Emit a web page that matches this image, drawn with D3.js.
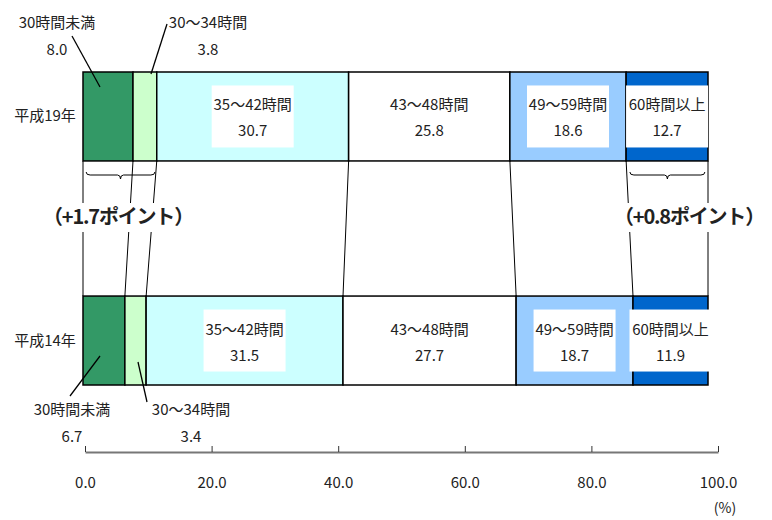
<!DOCTYPE html>
<html>
<head>
<meta charset="utf-8">
<script src="https://cdnjs.cloudflare.com/ajax/libs/d3/7.8.5/d3.min.js"></script>
<style>
body { margin: 0; background: #fff; }
text { font-family: "Noto Sans CJK JP", "Noto Sans", sans-serif; fill: #222; }
</style>
</head>
<body>
<svg width="772" height="520"></svg>
<script>
// data
var categories = ["30時間未満", "30～34時間", "35～42時間", "43～48時間", "49～59時間", "60時間以上"];
var years = ["平成19年", "平成14年"];
var h19 = [8.0, 3.8, 30.7, 25.8, 18.6, 12.7];
var h14 = [6.7, 3.4, 31.5, 27.7, 18.7, 11.9];
var tickValues = [0, 20, 40, 60, 80, 100];
var diffLabels = ["（+1.7ポイント）", "（+0.8ポイント）"];
var colors = ["#339966", "#ccffcc", "#ccffff", "#ffffff", "#99ccff", "#0066cc"];

var series = [h19, h14];

var svg = d3.select("svg");

var x = d3.scaleLinear().domain([0, 100]).range([83, 708]);
var xAxisScale = d3.scaleLinear().domain([0, 100]).range([85, 718]);
var y = d3.scaleBand().domain(years).range([72, 385]).paddingInner(0.603);

// cumulative start/end per segment
var stacks = series.map(function(vals) {
    var c = 0;
    return vals.map(function(v, i) {
        var s = c;
        c += v;
        return {i: i, v: v, s: s, e: (i == vals.length - 1) ? 100 : c};
    });
});

// connector lines between the two bars
var b1 = y(years[0]) + y.bandwidth();
var t2 = y(years[1]);
var conn = svg.append("g");
for (var k = 0; k <= categories.length; k++) {
    var xa = k == 0 ? 0 : stacks[0][k - 1].e;
    var xb = k == 0 ? 0 : stacks[1][k - 1].e;
    conn.append("line")
        .attr("x1", x(xa)).attr("y1", b1)
        .attr("x2", x(xb)).attr("y2", t2)
        .attr("stroke", "#000").attr("stroke-width", 1);
}

// bars
years.forEach(function(yr, j) {
    var g = svg.append("g");
    g.selectAll("rect")
        .data(stacks[j])
        .enter()
        .append("rect")
        .attr("x", function(d) { return x(d.s); })
        .attr("width", function(d) { return x(d.e) - x(d.s); })
        .attr("y", y(yr))
        .attr("height", y.bandwidth())
        .attr("fill", function(d) { return colors[d.i]; })
        .attr("stroke", "#000")
        .attr("stroke-width", 1.5);

    var cy = y(yr) + y.bandwidth() / 2;
    // white boxes + labels for the wide segments
    stacks[j].filter(function(d) { return d.i >= 2; }).forEach(function(d) {
        var cx = (x(d.s) + x(d.e)) / 2;
        if (d.i != 3) {
            g.append("rect")
                .attr("x", cx - 41).attr("y", cy - 31)
                .attr("width", 82).attr("height", 62)
                .attr("fill", "#fff");
        }
        g.append("text").attr("x", cx).attr("y", cy - 6)
            .attr("text-anchor", "middle").attr("font-size", 15)
            .text(categories[d.i]);
        g.append("text").attr("x", cx).attr("y", cy + 20)
            .attr("text-anchor", "middle").attr("font-size", 15)
            .text(d.v.toFixed(1));
    });

    // row label
    svg.append("text").attr("x", 45).attr("y", cy + 5)
        .attr("text-anchor", "middle").attr("font-size", 15)
        .text(yr);
});

// labels for the two small segments, outside the bars
var outside = [
    // [year index, segment, label x, label y, leader from, leader to]
    [0, 0, 57, 28, [72, 36], [100, 87]],
    [0, 1, 208, 28, [167, 24], [151, 74]],
    [1, 0, 72, 415, [70, 396], [100, 356]],
    [1, 1, 191, 415, [147, 402], [138, 362]]
];
outside.forEach(function(o) {
    var d = stacks[o[0]][o[1]];
    svg.append("line")
        .attr("x1", o[4][0]).attr("y1", o[4][1])
        .attr("x2", o[5][0]).attr("y2", o[5][1])
        .attr("stroke", "#000").attr("stroke-width", 1.3);
    svg.append("text").attr("x", o[2]).attr("y", o[3])
        .attr("text-anchor", "middle").attr("font-size", 15)
        .text(categories[d.i]);
    svg.append("text").attr("x", o[2]).attr("y", o[3] + 27)
        .attr("text-anchor", "middle").attr("font-size", 15)
        .text(d.v.toFixed(1));
});

// curly braces under the top bar
function brace(x0, x1, yy) {
    var m = (x0 + x1) / 2;
    var p = d3.path();
    p.moveTo(x0, yy - 3);
    p.quadraticCurveTo(x0, yy, x0 + 4, yy);
    p.lineTo(m - 3, yy);
    p.quadraticCurveTo(m, yy, m, yy + 4);
    p.quadraticCurveTo(m, yy, m + 3, yy);
    p.lineTo(x1 - 4, yy);
    p.quadraticCurveTo(x1, yy, x1, yy - 3);
    svg.append("path").attr("d", p.toString())
        .attr("fill", "none").attr("stroke", "#000").attr("stroke-width", 1);
}
brace(x(0.5), x(11.5), 175);
brace(x(87.5), x(99.5), 175);

// difference labels with white background
var diffPos = [[118, 224], [689, 224]];
diffLabels.forEach(function(t, i) {
    var tx = svg.append("text")
        .attr("x", diffPos[i][0]).attr("y", diffPos[i][1])
        .attr("text-anchor", "middle")
        .attr("font-size", 20).attr("font-weight", "bold")
        .attr("letter-spacing", -1.2)
        .text(t);
    var bb = tx.node().getBBox();
    svg.insert("rect", function() { return tx.node(); })
        .attr("x", bb.x).attr("y", bb.y + 2)
        .attr("width", bb.width).attr("height", bb.height)
        .attr("fill", "#fff");
});

// axis
var axis = d3.axisBottom(xAxisScale)
    .tickValues(tickValues)
    .tickFormat(d3.format(".1f"))
    .tickSizeInner(-6)
    .tickSizeOuter(0)
    .tickPadding(25);
var ax = svg.append("g").attr("transform", "translate(0,452)").call(axis);
ax.select(".domain").attr("stroke", "#777").attr("stroke-width", 2);
ax.selectAll(".tick line").attr("stroke", "#333");
ax.selectAll(".tick text")
    .style("font-family", '"Noto Sans CJK JP", sans-serif')
    .attr("font-size", 15).attr("fill", "#222");

svg.append("text").attr("x", 725).attr("y", 513)
    .attr("text-anchor", "middle").attr("font-size", 14)
    .text("(%)");
</script>
</body>
</html>
